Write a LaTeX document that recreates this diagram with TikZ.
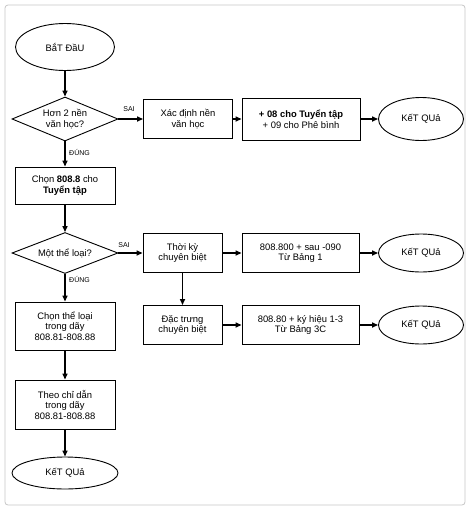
\documentclass[tikz,border=0pt]{standalone}
\usepackage{fontspec}
\setmainfont{Liberation Sans}
\usetikzlibrary{shapes.geometric,arrows.meta}
\begin{document}
\begin{tikzpicture}[x=1pt,y=-1pt,
  every node/.style={font=\fontsize{9.4}{10.5}\selectfont, align=center, inner sep=0pt},
  box/.style={draw, line width=0.9pt, rectangle, fill=white},
  oval/.style={draw, line width=0.9pt, ellipse, fill=white},
  cond/.style={draw, line width=0.9pt, diamond, aspect=2.4, fill=white},
  arr/.style={line width=1.6pt, -{Triangle[length=6pt,width=5pt]}},
  lbl/.style={font=\fontsize{7}{8}\selectfont}
]
\useasboundingbox (0,0) rectangle (472,512);
\draw[gray!45, line width=0.8pt, rounded corners=3pt] (5,5) rectangle (465,505);

\node[oval, minimum width=99pt, minimum height=47pt] (start) at (65,47) {BắT ĐầU};
\node[cond, minimum width=106pt, minimum height=44pt] (d1) at (65,119) {Hơn 2 nền\\văn học?};
\node[box, minimum width=89pt, minimum height=39pt] (xac) at (188,119) {Xác định nền\\văn học};
\node[box, minimum width=118pt, minimum height=42pt] (plus) at (301,119) {\textbf{+ 08 cho Tuyển tập}\\+ 09 cho Phê bình};
\node[oval, minimum width=85pt, minimum height=43pt] (kq1) at (421,119) {KếT QUả};

\node[box, minimum width=100pt, minimum height=37pt] (chon) at (65,185.5) {Chọn \textbf{808.8} cho\\\textbf{Tuyển tập}};
\node[cond, minimum width=106pt, minimum height=41pt] (d2) at (65,253) {Một thể loại?};
\node[box, minimum width=79pt, minimum height=39pt] (thoi) at (182.5,253) {Thời kỳ\\chuyên biệt};
\node[box, minimum width=117pt, minimum height=39pt] (b800) at (300.5,253) {808.800 + sau -090\\Từ Bảng 1};
\node[oval, minimum width=85pt, minimum height=38pt] (kq2) at (421,253) {KếT QUả};

\node[box, minimum width=79pt, minimum height=39pt] (dac) at (182.5,325) {Đặc trưng\\chuyên biệt};
\node[box, minimum width=117pt, minimum height=39pt] (b80) at (300.5,325) {808.80 + ký hiệu 1-3\\Từ Bảng 3C};
\node[oval, minimum width=85pt, minimum height=38pt] (kq3) at (421,325) {KếT QUả};

\node[box, minimum width=100pt, minimum height=48pt] (chontl) at (65,326) {Chọn thể loại\\trong dãy\\808.81-808.88};
\node[box, minimum width=100pt, minimum height=49pt] (theo) at (65,404.5) {Theo chỉ dẫn\\trong dãy\\808.81-808.88};
\node[oval, minimum width=106pt, minimum height=32pt] (kq4) at (65,473) {KếT QUả};

\draw[arr] (start) -- (d1);
\draw[arr] (d1) -- (xac);
\draw[arr] (xac) -- (plus);
\draw[arr] (plus) -- (kq1);
\draw[arr] (d1) -- (chon);
\draw[arr] (chon) -- (d2);
\draw[arr] (d2) -- (thoi);
\draw[arr] (thoi) -- (b800);
\draw[arr] (b800) -- (kq2);
\draw[arr] (thoi) -- (dac);
\draw[arr] (dac) -- (b80);
\draw[arr] (b80) -- (kq3);
\draw[arr] (d2) -- (chontl);
\draw[arr] (chontl) -- (theo);
\draw[arr] (theo) -- (kq4);

\node[lbl] (sai1) at (129,109) {SAI};
\node[lbl, anchor=west] (dung1) at (69,152) {ĐÚNG};
\node[lbl] (sai2) at (124,245) {SAI};
\node[lbl, anchor=west] (dung2) at (69,279) {ĐÚNG};
\end{tikzpicture}
\end{document}
